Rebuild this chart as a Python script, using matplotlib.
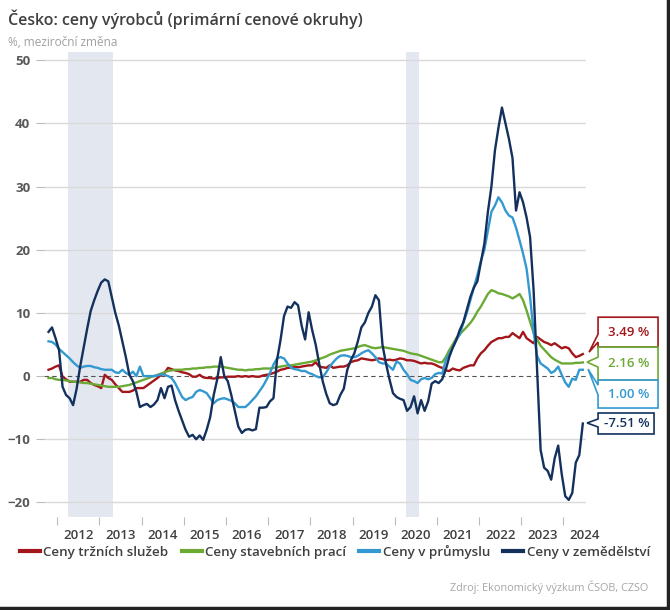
import matplotlib
matplotlib.use("Agg")
import matplotlib.pyplot as plt
import numpy as np
import pandas as pd
from matplotlib.patches import Polygon
from matplotlib.lines import Line2D

plt.rcParams['font.family'] = ['Open Sans', 'DejaVu Sans']

# monthly data, Oct 2011 - Jun 2024
months = pd.date_range('2011-10-01', '2024-06-01', freq='MS')

sluzby = [1.0, 1.2, 1.5,
          1.7, -0.1, -0.5, -0.9, -0.9, -0.9, -0.9, -0.6, -0.6, -1.1, -1.4, -1.6,
          -1.9, 0.2, -0.3, -0.6, -1.3, -1.9, -2.5, -2.5, -2.5, -2.3, -1.9, -1.9,
          -1.9, -1.5, -1.1, -0.7, -0.3, 0.2, 0.5, 1.3, 1.1, 0.9, 0.8, 0.6,
          0.5, 0.3, -0.1, -0.1, 0.2, -0.2, -0.3, -0.3, -0.4, -0.3, -0.2, -0.2,
          -0.1, -0.1, -0.1, 0.0, -0.1, 0.0, -0.1, 0.0, -0.1, -0.1, 0.1, 0.2,
          0.3, 0.5, 0.7, 1.0, 1.1, 1.3, 1.3, 1.5, 1.4, 1.5, 1.6, 1.7,
          1.7, 2.2, 1.5, 1.4, 1.3, 1.7, 1.3, 1.4, 1.5, 1.5, 1.7, 2.2,
          2.4, 2.5, 2.8, 2.7, 2.6, 2.5, 2.6, 2.8, 2.7, 2.5, 2.6, 2.5,
          2.6, 2.8, 2.7, 2.5, 2.5, 2.4, 2.2, 2.0, 2.1, 2.0, 2.0, 1.8,
          1.5, 1.3, 0.9, 0.8, 1.2, 1.0, 0.9, 1.3, 1.5, 1.7, 1.7, 2.8,
          3.6, 4.1, 4.8, 5.4, 5.7, 6.0, 6.0, 6.2, 6.2, 6.8, 6.4, 6.0,
          7.0, 6.0, 5.6, 5.2, 6.2, 5.8, 5.4, 5.2, 4.9, 5.2, 4.8, 4.4,
          4.6, 4.4, 3.6, 3.0, 3.2, 3.49]

stavebni = [-0.3, -0.3, -0.5,
            -0.6, -0.6, -0.7, -0.8, -0.9, -0.9, -1.0, -1.1, -1.1, -1.2, -1.3, -1.4,
            -1.5, -1.6, -1.7, -1.7, -1.7, -1.7, -1.6, -1.5, -1.4, -1.2, -1.0, -0.8,
            -0.6, -0.4, -0.2, 0.0, 0.2, 0.4, 0.6, 0.8, 0.9, 1.0, 1.0, 1.0,
            1.1, 1.1, 1.2, 1.2, 1.3, 1.3, 1.4, 1.4, 1.5, 1.5, 1.5, 1.4,
            1.3, 1.2, 1.1, 1.0, 1.0, 0.9, 1.0, 1.0, 1.1, 1.1, 1.2, 1.2,
            1.2, 1.3, 1.4, 1.5, 1.6, 1.7, 1.7, 1.8, 1.9, 2.0, 2.1, 2.2,
            2.3, 2.5, 2.7, 2.9, 3.1, 3.4, 3.6, 3.8, 4.0, 4.1, 4.2, 4.3,
            4.4, 4.6, 4.8, 4.9, 4.7, 4.5, 4.4, 4.5, 4.6, 4.5, 4.4, 4.3,
            4.2, 4.1, 4.0, 3.8, 3.6, 3.5, 3.4, 3.2, 3.0, 2.8, 2.6, 2.4,
            2.2, 2.2, 3.0, 4.1, 5.0, 6.0, 6.6, 7.2, 7.8, 8.4, 9.2, 10.2,
            11.0, 12.0, 13.0, 13.6, 13.4, 13.1, 13.0, 12.8, 12.6, 12.3, 12.6, 13.0,
            12.0, 10.4, 8.6, 6.8, 5.8, 4.8, 4.2, 3.6, 3.0, 2.6, 2.3, 2.0,
            2.0, 2.0, 2.0, 2.1, 2.1, 2.16]

prumysl = [5.5, 5.4, 5.0,
           4.3, 3.8, 3.3, 2.8, 2.2, 1.7, 1.3, 1.5, 1.6, 1.6, 1.4, 1.3,
           1.1, 1.0, 1.0, 1.0, 0.6, 0.5, 1.0, 0.5, 0.2, 0.7, 0.0, 1.5,
           0.0, 0.0, 0.0, 0.0, 0.1, 0.3, 0.2, 0.0, -0.3, -1.1, -2.2, -3.3,
           -3.8, -3.5, -3.3, -2.5, -2.2, -2.4, -2.7, -3.5, -4.3, -3.8, -3.6, -3.5,
           -3.7, -3.9, -4.3, -4.9, -4.9, -4.9, -4.4, -3.8, -3.2, -2.4, -1.6, -0.6,
           0.5, 1.8, 2.8, 3.0, 2.8, 2.0, 1.3, 1.1, 1.0, 0.8, 0.8, 0.5,
           0.3, 0.0, -0.2, -0.2, 0.6, 1.5, 2.2, 2.8, 3.2, 3.3, 3.2, 3.0,
           3.0, 3.2, 3.6, 3.9, 4.1, 3.6, 3.0, 2.2, 2.0, 2.0, 1.5, 1.0,
           2.3, 2.0, 1.0, 0.3, -0.6, -0.8, -1.1, -0.5, -0.3, -0.5, -0.3, 0.3,
           0.5, 0.4, 2.5, 3.5, 4.5, 5.7, 6.6, 8.4, 10.0, 12.0, 14.0, 16.0,
           18.2, 20.0, 23.0, 26.0, 27.0, 28.3, 27.5, 26.2, 25.4, 25.1, 23.5, 21.5,
           19.4, 17.0, 12.5, 7.0, 3.2, 2.0, 1.6, 1.2, 0.5, 0.8, 1.5, 0.2,
           -1.0, -1.7, -0.4, -0.6, 1.0, 1.00]

zemedelstvi = [7.0, 7.7, 6.0,
               4.1, -1.7, -3.0, -3.5, -4.6, -2.0, 1.5, 4.5, 7.5, 10.3, 12.0, 13.5,
               14.8, 15.3, 15.0, 12.5, 10.0, 8.0, 5.5, 3.0, 0.2, -0.8, -2.5, -4.9,
               -4.6, -4.4, -4.9, -4.5, -3.8, -1.9, -3.5, -1.7, -1.5, -3.8, -5.5, -7.0,
               -8.5, -9.6, -9.3, -10.0, -9.4, -10.1, -8.5, -6.5, -3.0, -0.5, 3.0, 0.0,
               -0.8, -3.0, -5.5, -8.0, -9.0, -8.5, -8.4, -8.6, -8.4, -5.0, -5.0, -4.9,
               -4.0, -3.5, 2.5, 5.7, 9.5, 11.0, 10.8, 11.7, 11.2, 8.0, 5.8, 10.1,
               7.3, 5.0, 2.0, -0.8, -2.8, -4.3, -4.6, -4.4, -3.0, -2.0, 1.0, 2.5,
               3.6, 5.5, 7.7, 8.5, 10.0, 11.0, 12.8, 12.0, 5.0, 2.0, -0.5, -2.7,
               -3.3, -3.6, -3.8, -5.5, -4.9, -3.2, -5.9, -3.8, -5.5, -4.0, -1.2, -0.8,
               -1.1, -0.5, 1.0, 3.0, 4.5, 5.7, 7.3, 8.5, 10.5, 12.5, 14.0, 15.0,
               18.0, 21.0, 26.0, 30.0, 35.7, 39.3, 42.5, 40.0, 37.5, 34.5, 26.2, 29.1,
               27.5, 25.1, 22.0, 13.6, 1.0, -11.7, -14.5, -15.0, -16.4, -13.0, -11.0, -15.5,
               -19.0, -19.6, -18.5, -13.7, -12.5, -7.51]

names = ['Ceny tržních služeb', 'Ceny stavebních prací', 'Ceny v průmyslu', 'Ceny v zemědělství']
colors = ['#A3161A', '#6BAA35', '#3399D0', '#14315E']
series = [sluzby, stavebni, prumysl, zemedelstvi]
last_labels = ['3.49 %', '2.16 %', '1.00 %', '-7.51 %']

# recession shading (decimal years)
recessions = [(2012.26, 2013.33), (2020.27, 2020.58)]
years = list(range(2012, 2025))

x = months.year + (months.month - 0.5) / 12.0

fig = plt.figure(figsize=(6.7, 6.1), dpi=100)
ax = fig.add_axes([0.066, 0.1525, 0.809, 0.7623])

for a, b in recessions:
    ax.axvspan(a, b, color='#E3E8F0', lw=0, zorder=0)

for yv in range(-20, 60, 10):
    if yv != 0:
        ax.axhline(yv, color='#D9D9D9', lw=1.0, zorder=1)
ax.axhline(0, color='#555555', lw=0.8, ls=(0, (4, 3)), zorder=1)

for s, c, n in zip(series, colors, names):
    ax.plot(x, s, color=c, lw=1.7, label=n, zorder=3, solid_joinstyle='round')

ax.set_xlim(2011.69, 2024.54)
ax.set_ylim(-22.3, 51.3)
for sp in ax.spines.values():
    sp.set_visible(False)

ax.set_yticks(range(-20, 60, 10))
ax.tick_params(axis='y', length=6, width=0.8, color='#BBBBBB', pad=4,
               labelsize=9.5, labelcolor='#595959')
for t in ax.get_yticklabels():
    t.set_fontweight('bold')

ax.set_xticks(years)
ax.set_xticklabels([])
ax.set_xticks([y + 0.5 for y in years], minor=True)
ax.set_xticklabels([str(y) for y in years], minor=True)
ax.tick_params(axis='x', which='major', length=6, width=0.8, color='#BBBBBB')
ax.tick_params(axis='x', which='minor', length=0, pad=9, labelsize=9.5,
               labelcolor='#404040')
for t in ax.get_xticklabels(minor=True):
    t.set_fontweight('semibold')

# callout boxes at the right end (pixel geometry -> data coords)
def px2x(px):
    return 2012 + (px - 57) / 42.2

def py2y(py):
    return (376 - py) / 6.33

boxes = [
    # top, bottom, right, wedge edge hi, wedge edge lo, tip x, tip y
    (317, 347, 658, 334, 342, 589, 352),
    (347, 380, 658, 357, 367, 587, 362),
    (380, 408, 658, 385, 395, 588, 369),
    (413, 434, 654, 419, 427, 587, 423),
]
for (top, bot, right, w1, w2, tx, ty), c, lab in zip(boxes, colors, last_labels):
    left = 598
    verts = [(left, top), (right, top), (right, bot), (left, bot),
             (left, w2), (tx, ty), (left, w1)]
    verts = [(px2x(a), py2y(b)) for a, b in verts]
    ax.add_patch(Polygon(verts, closed=True, facecolor='white', edgecolor=c,
                         lw=1.2, clip_on=False, zorder=5))
    ax.text(px2x((left + right) / 2 + 1), py2y((top + bot) / 2), lab, color=c,
            fontsize=9.5, fontweight='semibold', ha='center', va='center',
            clip_on=False, zorder=6)

fig.text(0.012, 0.968, 'Česko: ceny výrobců (primární cenové okruhy)',
         fontsize=11.5, fontweight='semibold', color='#404040', va='center')
fig.text(0.012, 0.931, '%, meziroční změna', fontsize=8.5, color='#A0A0A0',
         va='center')

handles = [Line2D([0], [0], color=c, lw=3) for c in colors]
fig.legend(handles, names, loc='center', bbox_to_anchor=(0.5, 0.095), ncol=4,
           frameon=False, handlelength=1.5, handletextpad=0.25,
           columnspacing=1.0, prop={'size': 9.6, 'weight': 'semibold'},
           labelcolor='#404040')

fig.text(0.968, 0.038, 'Zdroj: Ekonomický výzkum ČSOB, CZSO', fontsize=7.8,
         color='#A6A6A6', ha='right', va='center')

fig.add_artist(Line2D([0, 1], [0.003, 0.003], color='#222222', lw=2.5,
                      transform=fig.transFigure))
fig.add_artist(Line2D([0.997, 0.997], [0, 1], color='#222222', lw=2.5,
                      transform=fig.transFigure))

fig.savefig('out.png', dpi=100)
